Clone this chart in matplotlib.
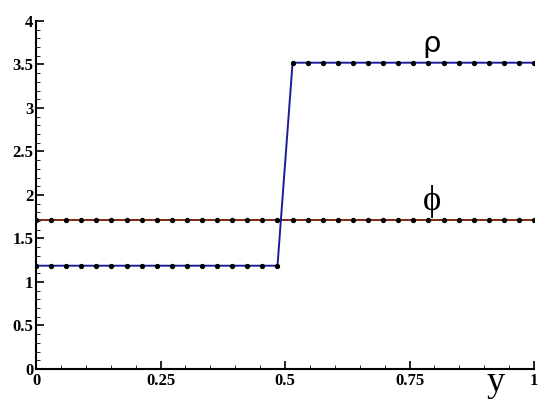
import numpy as np
import matplotlib
matplotlib.use("Agg")
import matplotlib.pyplot as plt

# Gitterpunkte und Werte
y = np.array([i / 33 for i in range(34)])
rho = np.array([1.187] * 17 + [3.52] * 17)
phi = np.array([1.713] * 34)

xticks = [0, 0.25, 0.5, 0.75, 1]
xticklabels = ["0", "0.25", "0.5", "0.75", "1"]
yticks = [0, 0.5, 1, 1.5, 2, 2.5, 3, 3.5, 4]
yticklabels = ["0", "0.5", "1", "1.5", "2", "2.5", "3", "3.5", "4"]

fig = plt.figure(figsize=(5.5, 4.09), dpi=100)
ax = fig.add_axes([0.0655, 0.0978, 0.9055, 0.851])

ax.plot(y, phi, "-", color="#7d2a14", lw=1.4, zorder=2)
ax.plot(y, rho, "-", color="#1c1c9a", lw=1.4, zorder=3)
ax.plot(y, phi, "o", color="black", ms=2.8, zorder=4)
ax.plot(y, rho, "o", color="black", ms=2.8, zorder=4)

ax.set_xlim(0, 1)
ax.set_ylim(0, 4)
ax.set_xticks(xticks)
ax.set_xticklabels(xticklabels)
ax.set_yticks(yticks)
ax.set_yticklabels(yticklabels)
ax.set_xticks(np.arange(0, 1.0001, 0.05), minor=True)
ax.set_yticks(np.arange(0, 4.0001, 0.1), minor=True)
ax.tick_params(which="both", direction="in", top=False, right=False)
ax.tick_params(which="major", length=6, width=1.2)
ax.tick_params(which="minor", length=3, width=0.6)
ax.tick_params(axis="x", pad=3)
ax.tick_params(axis="y", pad=2)
for lab in ax.get_xticklabels() + ax.get_yticklabels():
    lab.set_fontfamily("Liberation Serif")
    lab.set_fontweight("bold")
    lab.set_fontsize(12)

for s in ["top", "right"]:
    ax.spines[s].set_visible(False)
for s in ["left", "bottom"]:
    ax.spines[s].set_linewidth(1.5)

ax.text(0.795, 3.73, "ρ", fontsize=21, family="DejaVu Sans", ha="center", va="center")
ax.text(0.795, 1.92, "ϕ", fontsize=25, family="Liberation Serif", ha="center", va="center")
ax.text(0.923, -0.15, "y", fontsize=26, family="Liberation Serif", ha="center", va="center")

plt.savefig("out.png", dpi=100)
